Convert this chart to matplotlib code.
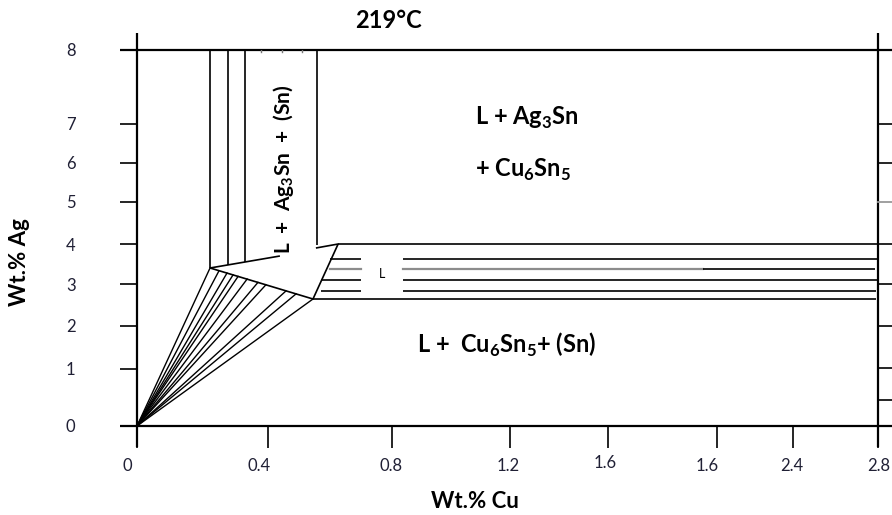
import matplotlib
matplotlib.use('Agg')
import matplotlib.pyplot as plt
from matplotlib.transforms import ScaledTranslation

plt.rcParams['font.family'] = ['Lato', 'DejaVu Sans']
plt.rcParams['mathtext.fontset'] = 'custom'
plt.rcParams['mathtext.rm'] = 'Lato'
plt.rcParams['mathtext.bf'] = 'Lato:bold'

# axis ticks (positions on the drawn scale, labels as printed)
x_tick_pos = [0, 0.495, 0.964, 1.410, 1.780, 2.192, 2.479, 2.8]
x_tick_labels = ['0', '0.4', '0.8', '1.2', '1.6', '1.6', '2.4', '2.8']
y_tick_pos = [0, 1.213, 2.128, 3.021, 3.872, 4.766, 5.596, 6.426, 8.0]
y_tick_labels = ['0', '1', '2', '3', '4', '5', '6', '7', '8']
right_tick_pos = [0.553, 1.234, 2.128, 3.021, 5.596, 6.426]
right_tick_gray = [4.766]

# phase boundaries (wt.% Cu, wt.% Ag)
ag_top = 8.0
vert_cu = [0.276, 0.344, 0.408, 0.680]
vert_ag_end = [3.362, 3.428, 3.489, 3.85]
upper_edge_cu = [0.276, 0.540]
upper_edge_ag = [3.362, 3.617]
l_edge_cu = [0.676, 0.760, 0.665]
l_edge_ag = [3.787, 3.872, 2.702]
lower_edge_cu = [0.276, 0.665]
lower_edge_ag = [3.362, 2.702]
fan_cu = [0.276, 0.310, 0.340, 0.363, 0.382, 0.416, 0.457, 0.487, 0.563, 0.601, 0.665]
fan_ag = [3.362, 3.304, 3.253, 3.215, 3.183, 3.126, 3.055, 3.004, 2.874, 2.811, 2.702]

# L region tie lines: level, start, gap, end
tie_ag = [3.553, 3.340, 3.106, 2.872]
tie_start = [0.729, 0.729, 0.695, 0.695]
tie_end = [2.8, 2.789, 2.8, 2.793]
gap_cu = [0.846, 1.005]
gray_tie_end = 2.139
l_top_ag, l_top_cu = 3.872, [0.760, 2.853]
l_bot_ag, l_bot_cu = 2.702, [0.665, 2.793]
top_marks_cu = [0.469, 0.548, 0.624]

# small shifts of the printed x tick labels (pixels)
x_label_dx = [-10, -9, -1, -2, -3, -10, -1, 1]
x_label_dy = [0, 0, 0, 0, 3, 0, 0, 0]

fig = plt.figure(figsize=(8.92, 5.15), dpi=100)
ax = fig.add_axes([137 / 892, 89 / 515, 741 / 892, 376 / 515])
ax.set_xlim(0, 2.8)
ax.set_ylim(0, 8)
for s in ax.spines.values():
    s.set_visible(False)

k = dict(color='black', lw=1.2, clip_on=False, solid_capstyle='butt')
ka = dict(color='black', lw=1.6, clip_on=False, solid_capstyle='butt')

# frame lines
ax.plot([0, 0], [-0.447, 8.362], **ka)
ax.plot([2.8, 2.8], [-0.447, 8.362], **ka)
ax.plot([-0.064, 2.853], [0, 0], **ka)
ax.plot([-0.064, 2.853], [ag_top, ag_top], **ka)
for yv in right_tick_pos:
    ax.plot([2.8, 2.853], [yv, yv], **k)
for yv in right_tick_gray:
    ax.plot([2.8, 2.853], [yv, yv], color='#999999', lw=1.3, clip_on=False)

# Ag3Sn region
for xv, ye in zip(vert_cu, vert_ag_end):
    ax.plot([xv, xv], [ag_top, ye], **k)
for xv in top_marks_cu:
    ax.plot([xv, xv], [ag_top, 7.95], color='#777777', lw=1.0)
ax.plot(upper_edge_cu, upper_edge_ag, **k)
ax.plot(l_edge_cu, l_edge_ag, **k)
ax.plot(lower_edge_cu, lower_edge_ag, **k)
for xv, yv in zip(fan_cu, fan_ag):
    ax.plot([0, xv], [0, yv], color='black', lw=1.0)

# L region
ax.plot(l_top_cu, [l_top_ag, l_top_ag], **k)
ax.plot(l_bot_cu, [l_bot_ag, l_bot_ag], **k)
for i, (yv, x0, x1) in enumerate(zip(tie_ag, tie_start, tie_end)):
    if i == 1:
        ax.plot([x0, gap_cu[0]], [yv, yv], color='#8c8c8c', lw=1.6)
        ax.plot([gap_cu[1], gray_tie_end], [yv, yv], color='#8c8c8c', lw=1.6)
        ax.plot([gray_tie_end, x1], [yv, yv], **k)
    else:
        ax.plot([x0, gap_cu[0]], [yv, yv], **k)
        ax.plot([gap_cu[1], x1], [yv, yv], **k)

# ticks
ax.set_xticks(x_tick_pos)
ax.set_xticklabels(x_tick_labels)
ax.set_yticks(y_tick_pos)
ax.set_yticklabels(y_tick_labels)
ax.tick_params(axis='x', direction='out', length=15.8, width=1.2, pad=7,
               labelsize=12, labelcolor='#202035')
ax.tick_params(axis='y', direction='out', length=12.2, width=1.2, pad=32,
               labelsize=12, labelcolor='#202035')
for lab, dx, dy in zip(ax.get_xticklabels(), x_label_dx, x_label_dy):
    lab.set_transform(lab.get_transform() +
                      ScaledTranslation(dx / 100, dy / 100, fig.dpi_scale_trans))

# labels
ax.text(0.952, 8.638, '219°C', fontsize=17, fontweight='bold',
        ha='center', va='center', clip_on=False)
ax.text(0.552, 5.468, r'L  +  Ag$_{\mathbf{3}}$Sn  +  (Sn)', fontsize=15,
        fontweight='bold', rotation=90, ha='center', va='center')
ax.text(1.277, 6.553, r'L + Ag$_{\mathbf{3}}$Sn', fontsize=17,
        fontweight='bold', ha='left', va='center')
ax.text(1.277, 5.447, r'+ Cu$_{\mathbf{6}}$Sn$_{\mathbf{5}}$', fontsize=17,
        fontweight='bold', ha='left', va='center')
ax.text(0.926, 3.234, 'L', fontsize=9, ha='center', va='center')
ax.text(1.058, 1.723, r'L +  Cu$_{\mathbf{6}}$Sn$_{\mathbf{5}}$+ (Sn)',
        fontsize=17, fontweight='bold', ha='left', va='center')

ax.set_xlabel('Wt.% Cu', fontsize=16, fontweight='bold')
ax.xaxis.set_label_coords(0.456, -0.172)
ax.set_ylabel('Wt.% Ag', fontsize=16, fontweight='bold')
ax.yaxis.set_label_coords(-0.145, 0.436)

fig.savefig('out.png', dpi=100)
